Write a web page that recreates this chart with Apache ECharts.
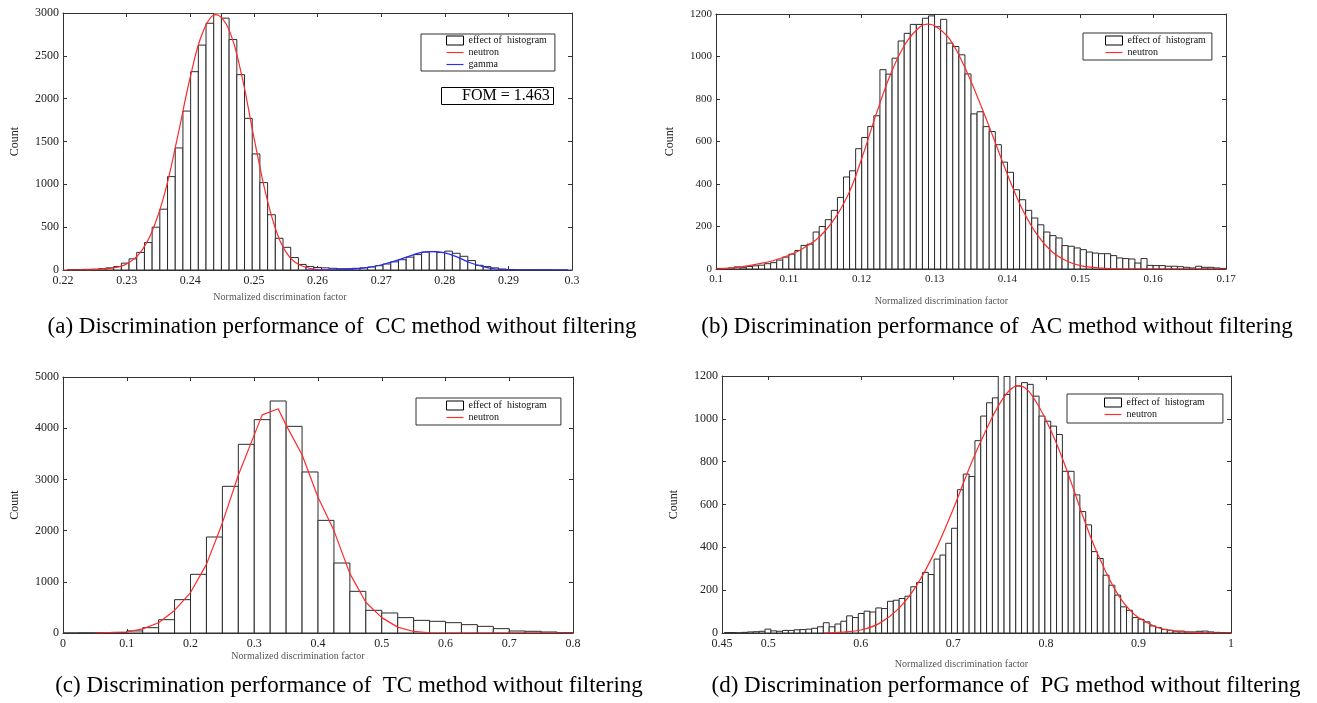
<!DOCTYPE html>
<html>
<head>
<meta charset="utf-8">
<script src="https://cdn.jsdelivr.net/npm/echarts@6/dist/echarts.min.js"></script>
<style>
  html, body { margin: 0; padding: 0; background: #fff; }
  #main { width: 1317px; height: 703px; }
</style>
</head>
<body>
<div id="main"></div>
<script>
// ---- data ----
const captions = [
  "(a) Discrimination performance of  CC method without filtering",
  "(b) Discrimination performance of  AC method without filtering",
  "(c) Discrimination performance of  TC method without filtering",
  "(d) Discrimination performance of  PG method without filtering",
];

// (a) CC
const ccXTicks = [0.22, 0.23, 0.24, 0.25, 0.26, 0.27, 0.28, 0.29, 0.3];
const ccYTicks = [0, 500, 1000, 1500, 2000, 2500, 3000];
const ccBinStart = 0.2207;
const ccBinWidth = 0.00121;
const ccCounts = [3, 5, 8, 10, 15, 25, 40, 80, 130, 205, 320, 500, 710, 1090, 1425, 1855, 2315, 2625, 2880, 3000,
  2940, 2690, 2280, 1770, 1355, 1020, 645, 370, 265, 145, 65, 40, 30, 25,
  20, 15, 15, 20, 25, 35, 50, 70, 95, 120, 150, 180, 210, 215, 205, 220, 195, 160, 110, 55, 40, 25, 12,
  6, 3, 2, 2, 1, 1, 0, 0];
const ccNeutron = [[0.22, 0], [0.225, 5], [0.228, 25], [0.23, 70], [0.232, 190], [0.234, 450], [0.236, 900],
  [0.238, 1550], [0.24, 2250], [0.242, 2780], [0.244, 2980], [0.246, 2820], [0.248, 2300], [0.25, 1550],
  [0.252, 850], [0.254, 360], [0.256, 120], [0.258, 35], [0.26, 8], [0.262, 0]];
const ccGamma = [[0.258, 0], [0.264, 5], [0.268, 30], [0.271, 80], [0.274, 150], [0.276, 200], [0.278, 215],
  [0.28, 200], [0.282, 150], [0.284, 85], [0.286, 40], [0.288, 12], [0.29, 3], [0.295, 0], [0.3, 0]];

// (b) AC
const acXTicks = [0.1, 0.11, 0.12, 0.13, 0.14, 0.15, 0.16, 0.17];
const acYTicks = [0, 200, 400, 600, 800, 1000, 1200];
const acBinStart = 0.1;
const acBinWidth = 1 / 1200;
const acCounts = [3, 3, 5, 10, 6, 12, 15, 18, 25, 30, 42,
  56, 70, 87, 111, 117, 174, 200, 232, 276, 337, 433, 462, 566, 619, 671, 721,
  938, 917, 992, 1073, 1109, 1151, 1151, 1180, 1191, 1140, 1175, 1063, 1047, 1008, 918, 730, 740,
  670, 647, 585, 503, 455, 373, 326, 276, 240, 208, 174, 157, 146, 110, 107, 99, 91, 80, 75, 72,
  72, 63, 52, 49, 47, 28, 49, 17, 16, 16, 13, 13, 11, 8, 5, 13, 8, 8, 5, 3];
const acNeutron = [[0.1, 0], [0.103, 8], [0.106, 25], [0.109, 52], [0.112, 98], [0.115, 180], [0.118, 340],
  [0.12, 520], [0.122, 730], [0.124, 920], [0.126, 1060], [0.128, 1140], [0.129, 1152], [0.13, 1145],
  [0.132, 1085], [0.134, 960], [0.136, 800], [0.138, 625], [0.14, 445], [0.142, 285], [0.144, 165],
  [0.146, 85], [0.148, 40], [0.15, 16], [0.153, 4], [0.156, 0], [0.17, 0]];

// (c) TC
const tcXTicks = [0, 0.1, 0.2, 0.3, 0.4, 0.5, 0.6, 0.7, 0.8];
const tcYTicks = [0, 1000, 2000, 3000, 4000, 5000];
const tcBinStart = 0;
const tcBinWidth = 0.025;
const tcCounts = [0, 2, 5, 12, 40, 104, 260, 651, 1146, 1875, 2865, 3685, 4167, 4531, 4036, 3145,
  2200, 1367, 814, 443, 391, 300, 247, 228, 202, 163, 130, 85, 39, 33, 20, 7];
const tcNeutron = [[0.05, 0], [0.1, 20], [0.125, 80], [0.15, 200], [0.175, 440], [0.2, 790], [0.225, 1340],
  [0.25, 2150], [0.275, 3080], [0.3, 3870], [0.3125, 4260], [0.3375, 4380], [0.35, 4060], [0.375, 3480],
  [0.4, 2650], [0.425, 2000], [0.45, 1160], [0.475, 600], [0.5, 300], [0.525, 115], [0.55, 30],
  [0.575, 5], [0.6, 0], [0.8, 0]];

// (d) PG
const pgXTicks = [0.45, 0.5, 0.6, 0.7, 0.8, 0.9, 1];
const pgYTicks = [0, 200, 400, 600, 800, 1000, 1200];
const pgBinStart = 0.4524;
const pgBinWidth = 0.0063;
const pgCounts = [2, 2, 1, 3, 5, 6, 8, 18, 10, 8, 12, 12, 15, 16, 18, 22, 29, 48, 29, 42, 55,
  80, 72, 91, 102, 98, 117, 114, 148, 153, 161, 172, 216, 236, 283, 273, 345, 364, 419, 489,
  669, 742, 731, 898, 1013, 1075, 1098, 1210, 1114, 1210, 1153, 1169, 1161, 1106, 1013,
  989, 966, 927, 755, 755, 645, 567, 505, 380, 348, 270, 223, 177, 122, 106, 72, 64, 52, 33, 25,
  17, 13, 9, 9, 5, 5, 8, 9, 5, 3, 2, 1];
const pgNeutron = [[0.56, 0], [0.58, 4], [0.6, 14], [0.62, 45], [0.64, 110], [0.66, 220], [0.68, 380],
  [0.7, 580], [0.72, 800], [0.74, 990], [0.75, 1070], [0.76, 1130], [0.77, 1155], [0.78, 1135],
  [0.79, 1075], [0.8, 995], [0.81, 900], [0.82, 790], [0.83, 670], [0.84, 545], [0.85, 430],
  [0.86, 330], [0.87, 240], [0.88, 165], [0.89, 110], [0.9, 72], [0.92, 27], [0.94, 9],
  [0.96, 2], [0.98, 0], [1, 0]];

// ---- layout ----
const SERIF = '"Liberation Serif", "Times New Roman", serif';
const HIST = "effect of  histogram";

const panels = [
  {
    grid: { left: 63, top: 13, width: 509, height: 257 },
    xMin: 0.22, xMax: 0.3, xTicks: ccXTicks, yMax: 3000, yTicks: ccYTicks,
    binStart: ccBinStart, binWidth: ccBinWidth, counts: ccCounts,
    curves: [
      { name: "neutron", color: "#ff2a2a", data: ccNeutron, smooth: 0.4 },
      { name: "gamma", color: "#2a2aff", data: ccGamma, smooth: 0.4 },
    ],
    legend: { left: 421, top: 34, padding: [1, 8, 1, 25] },
    xNameGap: 22, xNameShift: 75, yNameGap: 42, labelSize: 12,
    caption: { x: 342, y: 327 },
  },
  {
    grid: { left: 716, top: 14, width: 510, height: 255 },
    xMin: 0.1, xMax: 0.17, xTicks: acXTicks, yMax: 1200, yTicks: acYTicks,
    binStart: acBinStart, binWidth: acBinWidth, counts: acCounts,
    curves: [{ name: "neutron", color: "#ff2a2a", data: acNeutron, smooth: 0.4 }],
    legend: { left: 1083, top: 33, padding: [2, 6, 2, 22] },
    xNameGap: 27, xNameShift: 59, yNameGap: 40, labelSize: 11,
    caption: { x: 997, y: 327 },
  },
  {
    grid: { left: 63, top: 377, width: 510, height: 256 },
    xMin: 0, xMax: 0.8, xTicks: tcXTicks, yMax: 5000, yTicks: tcYTicks,
    binStart: tcBinStart, binWidth: tcBinWidth, counts: tcCounts,
    curves: [{ name: "neutron", color: "#ff2a2a", data: tcNeutron, smooth: false }],
    legend: { left: 416, top: 398, padding: [2, 14, 2, 30] },
    xNameGap: 15, xNameShift: 40, yNameGap: 42, labelSize: 12,
    caption: { x: 349, y: 686 },
  },
  {
    grid: { left: 722, top: 376, width: 509, height: 257 },
    xMin: 0.45, xMax: 1, xTicks: pgXTicks, yMax: 1200, yTicks: pgYTicks,
    binStart: pgBinStart, binWidth: pgBinWidth, counts: pgCounts,
    curves: [{ name: "neutron", color: "#ff2a2a", data: pgNeutron, smooth: 0.35 }],
    legend: { left: 1067, top: 394, padding: [3, 18, 3, 37] },
    xNameGap: 26, xNameShift: 30, yNameGap: 42, labelSize: 12,
    caption: { x: 1006, y: 686 },
  },
];

const AXIS_COLOR = "#333";
const grids = [], xAxes = [], yAxes = [], series = [], legends = [], graphics = [];

panels.forEach((p, i) => {
  grids.push(Object.assign({ show: false }, p.grid));
  const tickStyle = { show: true, inside: true, length: 4, lineStyle: { color: AXIS_COLOR } };
  const lineStyle = { show: true, onZero: false, lineStyle: { color: AXIS_COLOR, width: 1 } };

  xAxes.push({
    type: "value", gridIndex: i, min: p.xMin, max: p.xMax, position: "bottom",
    axisLine: lineStyle,
    axisTick: Object.assign({ customValues: p.xTicks }, tickStyle),
    axisLabel: {
      customValues: p.xTicks, formatter: (v) => String(v),
      fontFamily: SERIF, fontSize: p.labelSize, color: "#222", margin: 5,
    },
    splitLine: { show: false },
    name: "Normalized discrimination factor", nameLocation: "middle", nameGap: p.xNameGap,
    nameTextStyle: { fontFamily: SERIF, fontSize: 10, color: "#555", padding: [0, p.xNameShift, 0, 0] },
  });
  xAxes.push({
    type: "value", gridIndex: i, min: p.xMin, max: p.xMax, position: "top",
    axisLine: lineStyle,
    axisTick: Object.assign({ customValues: p.xTicks }, tickStyle),
    axisLabel: { show: false },
    splitLine: { show: false },
  });
  yAxes.push({
    type: "value", gridIndex: i, min: 0, max: p.yMax, position: "left",
    axisLine: lineStyle,
    axisTick: Object.assign({ customValues: p.yTicks }, tickStyle),
    axisLabel: {
      customValues: p.yTicks, formatter: (v) => String(v),
      fontFamily: SERIF, fontSize: p.labelSize, color: "#222", margin: 4,
    },
    splitLine: { show: false },
    name: "Count", nameLocation: "middle", nameRotate: 90, nameGap: p.yNameGap,
    nameTextStyle: { fontFamily: SERIF, fontSize: 12, color: "#222" },
  });
  yAxes.push({
    type: "value", gridIndex: i, min: 0, max: p.yMax, position: "right",
    axisLine: lineStyle,
    axisTick: Object.assign({ customValues: p.yTicks }, tickStyle),
    axisLabel: { show: false },
    splitLine: { show: false },
  });

  // histogram bars
  series.push({
    type: "custom",
    name: HIST,
    xAxisIndex: 2 * i, yAxisIndex: 2 * i,
    clip: true,
    z: 2,
    itemStyle: { color: "#fff", borderColor: "#000", borderWidth: 1 },
    encode: { x: [0, 1], y: 2 },
    data: p.counts.map((c, k) => [p.binStart + k * p.binWidth, p.binStart + (k + 1) * p.binWidth, c]),
    renderItem: (params, api) => {
      const top = api.coord([api.value(0), api.value(2)]);
      const base = api.coord([api.value(1), 0]);
      return {
        type: "rect",
        shape: { x: top[0], y: top[1], width: base[0] - top[0], height: base[1] - top[1] },
        style: { fill: "#fff", stroke: "#2a2a2a", lineWidth: 1 },
      };
    },
  });

  // fitted curves
  p.curves.forEach((c) => {
    series.push({
      type: "line",
      name: c.name,
      xAxisIndex: 2 * i, yAxisIndex: 2 * i,
      data: c.data,
      symbol: "none",
      smooth: c.smooth,
      clip: true,
      z: 3,
      lineStyle: { color: c.color, width: 1.2 },
      itemStyle: { color: c.color },
    });
  });

  legends.push({
    orient: "vertical",
    left: p.legend.left, top: p.legend.top, padding: p.legend.padding,
    itemWidth: 17, itemHeight: 9, itemGap: 1,
    borderColor: "#333", borderWidth: 1, backgroundColor: "#fff",
    selectedMode: false,
    textStyle: { fontFamily: SERIF, fontSize: 10, color: "#111", lineHeight: 11 },
    data: [{ name: HIST, icon: "rect", itemStyle: { color: "#fff", borderColor: "#000", borderWidth: 1 } }]
      .concat(p.curves.map((c) => ({
        name: c.name,
        icon: "path://M0,0 L18,0 L18,1.2 L0,1.2 Z",
        itemStyle: { color: c.color },
      }))),
  });

  graphics.push({
    type: "text",
    x: p.caption.x, y: p.caption.y,
    style: {
      text: captions[i], font: "23px " + SERIF, fill: "#000",
      align: "center", verticalAlign: "middle", textAlign: "center", textVerticalAlign: "middle",
    },
  });
});

const chart = echarts.init(document.getElementById("main"));
chart.setOption({
  animation: false,
  backgroundColor: "#fff",
  title: [{
    text: "FOM = 1.463",
    left: 441, top: 87,
    padding: [1, 4, 1, 21],
    borderColor: "#000", borderWidth: 1,
    textStyle: { fontFamily: SERIF, fontSize: 16, fontWeight: "normal", color: "#000" },
  }],
  grid: grids,
  xAxis: xAxes,
  yAxis: yAxes,
  legend: legends,
  series: series,
  graphic: graphics,
});
</script>
</body>
</html>
